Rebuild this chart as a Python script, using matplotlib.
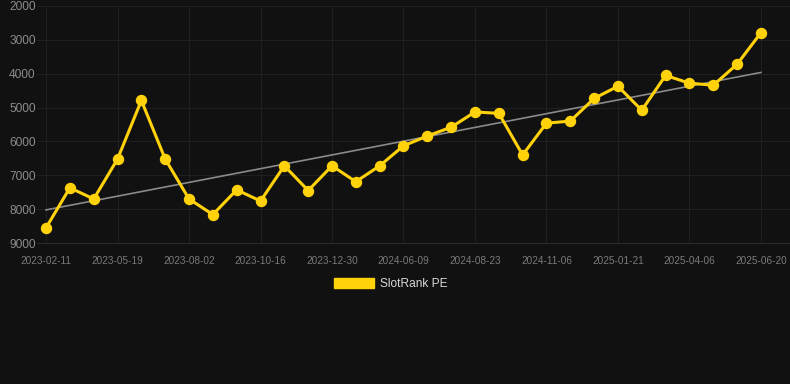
import numpy as np
import matplotlib
matplotlib.use("Agg")
from matplotlib import pyplot as plt
from matplotlib.patches import Patch

# tick labels shown on the x axis (every 3rd point)
tick_labels = ['2023-02-11', '2023-05-19', '2023-08-02', '2023-10-16', '2023-12-30',
               '2024-06-09', '2024-08-23', '2024-11-06', '2025-01-21', '2025-04-06',
               '2025-06-20']

# rank values
ranks = [8550, 7370, 7700, 6520, 4790, 6520, 7700, 8160, 7430, 7760,
         6720, 7450, 6720, 7190, 6720, 6130, 5840, 5580, 5130, 5170,
         6400, 5460, 5400, 4730, 4370, 5080, 4050, 4280, 4340, 3720,
         2790]

series_name = 'SlotRank PE'
bg = '#111111'
gold = '#FFD20A'

plt.rcParams['font.family'] = ['Liberation Sans', 'DejaVu Sans']

x = np.arange(len(ranks))
y = np.array(ranks)
k, b = np.polyfit(x, y, 1)

fig = plt.figure(figsize=(7.9, 3.84), dpi=100, facecolor=bg)
ax = fig.add_axes([37/790, (384-243)/384, (790-37)/790, (243-6)/384], facecolor=bg)

ax.plot(x, k*x + b, color='#8a8a8a', lw=1.2, zorder=2)
ax.plot(x, y, color=gold, lw=2.2, marker='o', ms=7.2, zorder=3)

ax.set_ylim(9000, 2000)
ax.set_xlim(-0.38, 31.22)
ax.set_yticks(range(2000, 9001, 1000))
ax.set_xticks(x[::3])
ax.set_xticklabels(tick_labels)
ax.tick_params(axis='y', length=0, pad=1, labelsize=8.6, colors='#8c8c8c')
ax.tick_params(axis='x', length=0, pad=9, labelsize=7.2, colors='#7a7a7a')

ax.grid(True, color='#1f1f1f', lw=0.8)
for s in ['top', 'right', 'left']:
    ax.spines[s].set_visible(False)
ax.spines['bottom'].set_color('#2a2a2a')

fig.legend(handles=[Patch(color=gold, label=series_name)], loc='center',
           bbox_to_anchor=(0.494, 1 - 284/384), frameon=False,
           handlelength=3.35, handleheight=1.0, handletextpad=0.5,
           fontsize=8.6, labelcolor='#d8d8d8')

fig.savefig('out.png', dpi=100, facecolor=bg)
